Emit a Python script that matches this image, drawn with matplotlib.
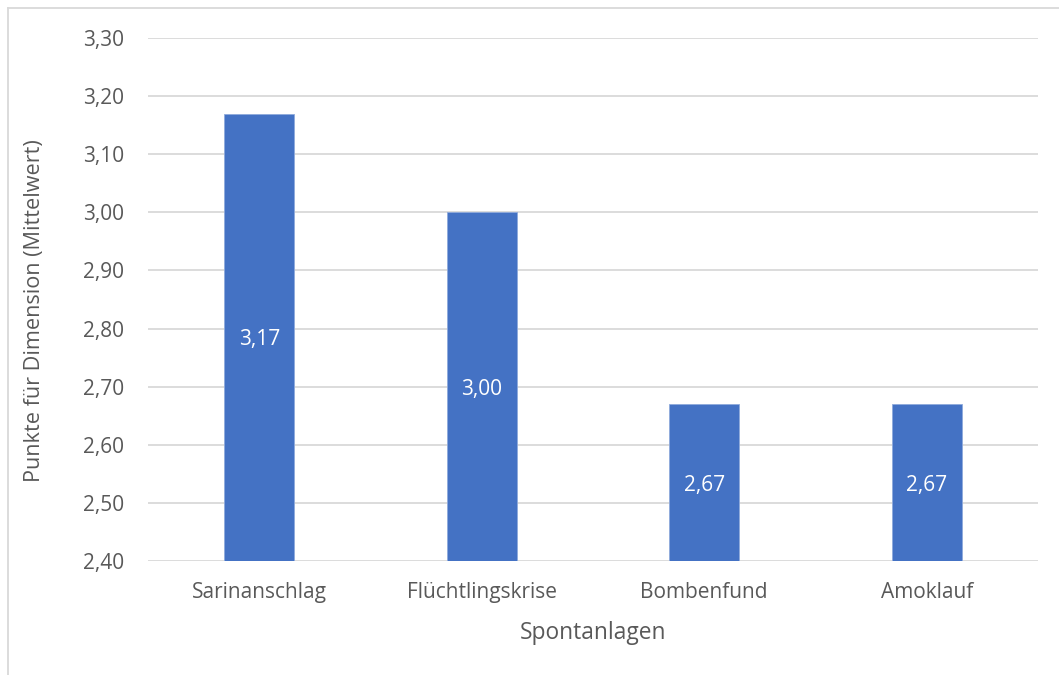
import matplotlib
matplotlib.use("Agg")
import matplotlib.pyplot as plt
from matplotlib.lines import Line2D

categories = ["Sarinanschlag", "Flüchtlingskrise", "Bombenfund", "Amoklauf"]
values = [3.17, 3.00, 2.67, 2.67]
y_ticks = [2.40, 2.50, 2.60, 2.70, 2.80, 2.90, 3.00, 3.10, 3.20, 3.30]

plt.rcParams["font.family"] = ["Open Sans", "DejaVu Sans"]
text_color = "#595959"
bar_color = "#4472C4"
grid_color = "#D9D9D9"

W, H = 1059, 675
fig = plt.figure(figsize=(W / 100, H / 100), dpi=100)
ax = fig.add_axes([148 / W, 1 - 561 / H, (1038 - 148) / W, (561 - 38) / H])

x = range(len(categories))
ymin = y_ticks[0]
bars = ax.bar(x, [v - ymin for v in values], bottom=ymin, width=0.314,
              color=bar_color, edgecolor="#8FAADC", linewidth=0.6, zorder=3)

for xi, v in zip(x, values):
    ax.text(xi, (ymin + v) / 2, f"{v:.2f}".replace(".", ","),
            ha="center", va="center_baseline", color="white", fontsize=15, zorder=4)

ax.set_xlim(-0.5, len(categories) - 0.5)
ax.set_ylim(y_ticks[0], y_ticks[-1])
ax.set_yticks(y_ticks)
ax.set_yticklabels([f"{t:.2f}".replace(".", ",") for t in y_ticks])
ax.set_xticks(list(x))
ax.set_xticklabels(categories)
ax.grid(axis="y", color=grid_color, linewidth=1.3, zorder=0)
ax.tick_params(axis="both", length=0, labelsize=15, labelcolor=text_color)
ax.tick_params(axis="y", pad=17)
ax.tick_params(axis="x", pad=15)
for s in ax.spines.values():
    s.set_visible(False)

ax.set_xlabel("Spontanlagen", fontsize=16.4, color=text_color, labelpad=13)
ax.set_ylabel("Punkte für Dimension (Mittelwert)", fontsize=15.6, color=text_color)
ax.yaxis.set_label_coords(-0.116, 0.478)

# outer chart frame
fig.add_artist(Line2D([8 / W, 1], [1 - 8 / H, 1 - 8 / H], color="#D9D9D9", linewidth=1.3))
fig.add_artist(Line2D([8 / W, 8 / W], [0, 1 - 8 / H], color="#D9D9D9", linewidth=1.3))

fig.savefig("out.png", dpi=100, facecolor="white")
